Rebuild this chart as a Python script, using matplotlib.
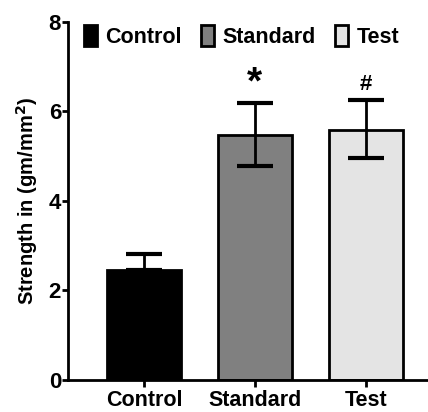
import matplotlib
matplotlib.use("Agg")
import matplotlib.pyplot as plt

groups = ["Control", "Standard", "Test"]
means = [2.46, 5.48, 5.59]
err_up = [0.36, 0.70, 0.66]
err_down = [0.0, 0.70, 0.64]
colors = ["#000000", "#808080", "#e4e4e4"]
marks = ["", "*", "#"]

plt.rcParams["font.family"] = ["Liberation Sans", "DejaVu Sans"]
plt.rcParams["font.weight"] = "bold"

fig = plt.figure(figsize=(4.28, 4.12), dpi=100)
ax = fig.add_axes([0.159, 0.078, 0.841, 0.869])

x = range(len(groups))
bars = ax.bar(x, means, width=0.67, color=colors, edgecolor="black", linewidth=2,
              zorder=2)
ax.errorbar(x, means, yerr=[err_down, err_up], fmt="none", ecolor="black",
            elinewidth=2, capsize=13, capthick=3, zorder=3)
ax.text(1, means[1] + err_up[1] + 0.05, marks[1], ha="center", va="bottom",
        fontsize=28, fontweight="bold")
ax.text(2, means[2] + err_up[2] + 0.12, marks[2], ha="center", va="bottom",
        fontsize=16, fontweight="bold")

for b, g in zip(bars, groups):
    b.set_label(g)
ax.legend(ncol=3, loc="upper left", bbox_to_anchor=(-0.01, 1.045), frameon=False,
          handlelength=0.6, handleheight=1.1, handletextpad=0.4, columnspacing=0.9,
          prop={"size": 15.5, "weight": "bold"})

ax.set_xlim(-0.685, 2.56)
ax.set_ylim(0, 8)
ax.set_yticks([0, 2, 4, 6, 8])
ax.set_xticks(list(x))
ax.set_xticklabels(groups, fontsize=15.5, fontweight="bold")
ax.tick_params(axis="y", labelsize=16, width=2, length=4, pad=1)
ax.tick_params(axis="x", width=2, length=5, pad=2)
for lbl in ax.get_yticklabels():
    lbl.set_fontweight("bold")
ax.set_ylabel("Strength in (gm/mm$^\\mathbf{2}$)", fontsize=14.5, fontweight="bold",
              labelpad=6)
for s in ["top", "right"]:
    ax.spines[s].set_visible(False)
for s in ["left", "bottom"]:
    ax.spines[s].set_linewidth(2)

fig.savefig("out.png", dpi=100)
